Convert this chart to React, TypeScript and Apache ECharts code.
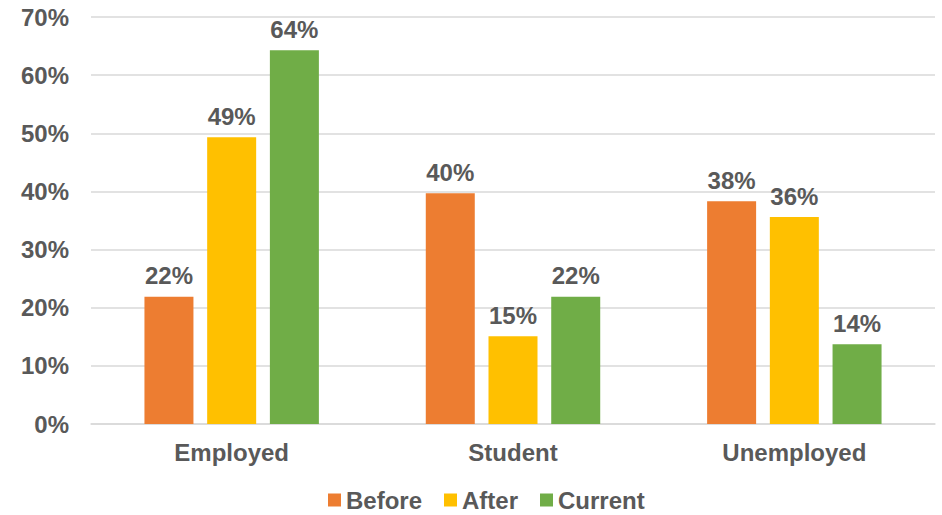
import React, { useEffect, useRef } from "react";
import * as echarts from "echarts";

const categories = ["Employed", "Student", "Unemployed"];
const beforeValues = [21.9, 39.7, 38.3];
const afterValues = [49.3, 15.1, 35.6];
const currentValues = [64.3, 21.9, 13.7];
const yTicks = [0, 10, 20, 30, 40, 50, 60, 70];

const FONT = "'Liberation Sans', Arial, sans-serif";
const TEXT = "#595959";
const FS = 24;

export default function App() {
  const ref = useRef<HTMLDivElement>(null);
  useEffect(() => {
    if (!ref.current) return;
    const chart = echarts.init(ref.current, null, { renderer: "svg" });
    const label = {
      show: true,
      position: "top" as const,
      distance: 9,
      formatter: (p: any) => Math.round(p.value) + "%",
      color: TEXT,
      fontSize: FS,
      fontWeight: "bold" as const,
      fontFamily: FONT,
    };
    const mk = (name: string, data: number[], color: string) => ({
      name,
      type: "bar" as const,
      data,
      barWidth: 49,
      barGap: "28%",
      itemStyle: { color },
      label,
    });
    chart.setOption({
      animation: false,
      grid: { left: 91, right: 7, top: 17, bottom: 91, containLabel: false },
      legend: {
        top: 488,
        left: 328,
        padding: 0,
        itemWidth: 13,
        itemHeight: 13,
        itemGap: 22,
        icon: "rect",
        textStyle: { color: TEXT, fontSize: FS, fontWeight: "bold", fontFamily: FONT, padding: [0, 0, 0, 0] },
        data: ["Before", "After", "Current"],
      },
      xAxis: {
        type: "category",
        data: categories,
        axisTick: { show: false },
        axisLine: { lineStyle: { color: "#d9d9d9", width: 1.5 } },
        axisLabel: { color: TEXT, fontSize: FS, fontWeight: "bold", fontFamily: FONT, margin: 16 },
      },
      yAxis: {
        type: "value",
        min: yTicks[0],
        max: yTicks[yTicks.length - 1],
        interval: 10,
        axisLine: { show: false },
        axisTick: { show: false },
        splitLine: { lineStyle: { color: "#d9d9d9", width: 1.5 } },
        axisLabel: {
          color: TEXT,
          fontSize: FS,
          fontWeight: "bold",
          fontFamily: FONT,
          margin: 22,
          formatter: (v: number) => v + "%",
        },
      },
      series: [
        mk("Before", beforeValues, "#ED7D31"),
        mk("After", afterValues, "#FFC000"),
        mk("Current", currentValues, "#70AD47"),
      ],
    });
    return () => chart.dispose();
  }, []);
  return <div ref={ref} style={{ width: 942, height: 515, position: "absolute", left: 0, top: 0 }} />;
}
